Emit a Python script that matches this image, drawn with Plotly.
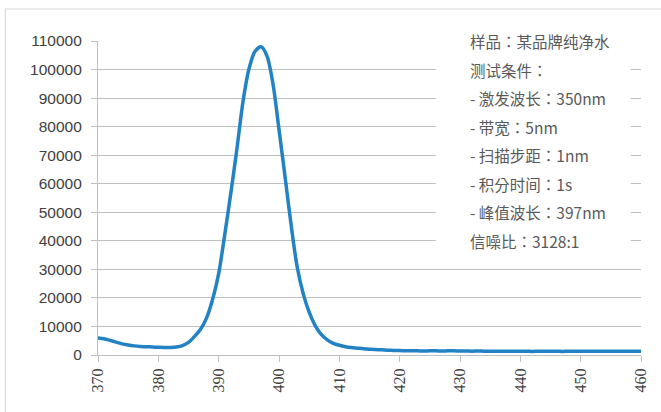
import plotly.graph_objects as go

wavelength = list(range(370, 461))
intensity = [
    6000, 5700, 5100, 4500, 3900, 3500, 3200, 3000, 2900, 2800,   # 370-379
    2700, 2650, 2650, 2800, 3300, 4400, 6500, 9000, 13000, 19500, # 380-389
    28500, 42000, 56500, 71800, 88300, 100000, 106300, 107950, 104800, 95000,  # 390-399
    79000, 62500, 45700, 31000, 21600, 15000, 10300, 7200, 5300, 4100,  # 400-409
    3400, 2900, 2600, 2400, 2200, 2050, 1900, 1800, 1700, 1600,   # 410-419
    1550, 1500, 1450, 1450, 1400, 1450, 1450, 1400, 1450, 1450,   # 420-429
    1400, 1400, 1350, 1400, 1350, 1350, 1300, 1350, 1300, 1300,   # 430-439
    1300, 1300, 1250, 1300, 1300, 1300, 1300, 1250, 1300, 1300,   # 440-449
    1300, 1300, 1350, 1300, 1300, 1350, 1300, 1300, 1300, 1300,   # 450-459
    1300,                                                          # 460
]

x_ticks = [370, 380, 390, 400, 410, 420, 430, 440, 450, 460]
y_ticks = [0, 10000, 20000, 30000, 40000, 50000, 60000, 70000, 80000, 90000, 100000, 110000]

info_lines = [
    "样品：某品牌纯净水",
    "测试条件：",
    "- 激发波长：350nm",
    "- 带宽：5nm",
    "- 扫描步距：1nm",
    "- 积分时间：1s",
    "- 峰值波长：397nm",
    "信噪比：3128:1",
]
info_y = [110000, 100000, 90000, 80000, 70000, 60000, 50000, 40000]

grid_c = "#c0c0c0"

fig = go.Figure()
fig.add_trace(go.Scatter(
    x=wavelength, y=intensity, mode="lines",
    line=dict(color="#2282c4", width=3.5, shape="spline", smoothing=0.8),
    hoverinfo="skip", showlegend=False,
))

# white box behind the notes (hides gridlines)
fig.add_shape(type="rect", xref="x", yref="y", x0=426.0, x1=458.3, y0=37000, y1=113000,
              fillcolor="white", line=dict(width=0), layer="above")

for txt, yv in zip(info_lines, info_y):
    fig.add_annotation(x=431.3, y=yv, xref="x", yref="y", text=txt, showarrow=False,
                       xanchor="left", yanchor="middle",
                       font=dict(family="Noto Sans CJK TC", size=15.5, color="#595959"))

# outer border
fig.add_shape(type="rect", xref="paper", yref="paper",
              x0=(5 - 98) / 545, x1=(680 - 98) / 545,
              y0=(355 - 430) / 314, y1=(355 - 9) / 314,
              line=dict(color="#d9d9d9", width=1.2), fillcolor="rgba(0,0,0,0)", layer="below")

fig.update_layout(
    width=661, height=412,
    margin=dict(l=98, r=18, t=41, b=57),
    paper_bgcolor="white", plot_bgcolor="white",
    showlegend=False,
)
fig.update_xaxes(
    range=[370, 460], tickvals=x_ticks, ticktext=[str(v) for v in x_ticks],
    tickangle=-90, showgrid=False, zeroline=False,
    showline=True, linecolor=grid_c, linewidth=1.2,
    ticks="outside", ticklen=6, tickcolor=grid_c,
    tickfont=dict(family="Liberation Serif", size=16, color="#404040"),
)
fig.update_yaxes(
    range=[0, 110000], tickvals=y_ticks, ticktext=[str(v) for v in y_ticks],
    showgrid=True, gridcolor=grid_c, gridwidth=1.2, zeroline=False,
    showline=True, linecolor=grid_c, linewidth=1.2,
    ticks="outside", ticklen=6, tickcolor=grid_c, ticklabelstandoff=6,
    tickfont=dict(family="Liberation Sans", size=15.5, color="#404040"),
)

fig.write_html("out.html", config={"displayModeBar": False},
               post_script="document.body.style.margin='0';")
